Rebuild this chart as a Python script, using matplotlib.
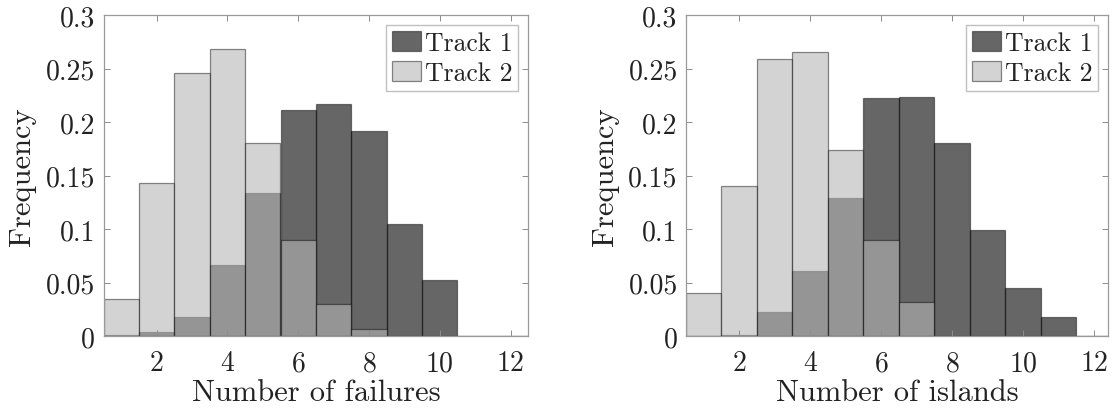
import matplotlib
matplotlib.use("Agg")
import matplotlib.pyplot as plt
import numpy as np
from matplotlib.patches import Patch

plt.rcParams["font.family"] = ["cmr10", "DejaVu Serif"]
plt.rcParams["axes.unicode_minus"] = False
plt.rcParams["axes.formatter.use_mathtext"] = True

# Bin centres and relative frequencies
bins = np.arange(1, 13)

failures_track1 = [0.001, 0.004, 0.018, 0.066, 0.134, 0.211, 0.217, 0.192, 0.105, 0.052, 0.0, 0.0]
failures_track2 = [0.035, 0.143, 0.246, 0.268, 0.180, 0.090, 0.030, 0.007, 0.0, 0.0, 0.0, 0.0]

islands_track1 = [0.0, 0.001, 0.022, 0.061, 0.129, 0.222, 0.223, 0.180, 0.099, 0.045, 0.018, 0.0]
islands_track2 = [0.040, 0.140, 0.259, 0.265, 0.174, 0.090, 0.032, 0.0, 0.0, 0.0, 0.0, 0.0]

series_labels = ["Track 1", "Track 2"]
x_labels = ["Number of failures", "Number of islands"]
y_label = "Frequency"
x_ticks = [2, 4, 6, 8, 10, 12]
y_ticks = [0, 0.05, 0.1, 0.15, 0.2, 0.25, 0.3]
y_tick_labels = ["0", "0.05", "0.1", "0.15", "0.2", "0.25", "0.3"]

face1 = (0.0, 0.0, 0.0, 0.6)
face2 = (0.713, 0.713, 0.713, 0.6)
edge = (0.0, 0.0, 0.0, 0.45)

W, H = 1114, 414
fig = plt.figure(figsize=(W / 100, H / 100), dpi=100)

panels = [
    (failures_track1, failures_track2, x_labels[0], [103.5, 528.3], 12.5),
    (islands_track1, islands_track2, x_labels[1], [686.0, 1108.3], 12.4),
]
top_px, bottom_px = 16.0, 337.0

for t1, t2, xl, (lpx, rpx), xmax in panels:
    ax = fig.add_axes([lpx / W, 1 - bottom_px / H, (rpx - lpx) / W, (bottom_px - top_px) / H])
    ax.bar(bins, t1, width=1.0, facecolor=face1, edgecolor=edge, linewidth=0.9, label=series_labels[0])
    ax.bar(bins, t2, width=1.0, facecolor=face2, edgecolor=edge, linewidth=0.9, label=series_labels[1])
    ax.set_xlim(0.5, xmax)
    ax.set_ylim(0, 0.3)
    ax.set_xticks(x_ticks)
    ax.set_yticks(y_ticks)
    ax.set_yticklabels(y_tick_labels)
    ax.tick_params(axis="both", direction="in", top=True, right=True, length=4,
                   width=0.7, color="#8c8c8c", labelsize=20, labelcolor="#222222")
    ax.tick_params(axis="x", pad=10)
    ax.tick_params(axis="y", pad=6)
    for s in ax.spines.values():
        s.set_color("#9a9a9a")
        s.set_linewidth(0.9)
    ax.set_xlabel(xl, fontsize=22, color="#222222", labelpad=2)
    ax.set_ylabel(y_label, fontsize=22, color="#222222", labelpad=7)
    handles = [Patch(facecolor=face1, edgecolor=edge, linewidth=0.9),
               Patch(facecolor=face2, edgecolor=edge, linewidth=0.9)]
    leg = ax.legend(handles, series_labels, loc="upper right", fontsize=18.5,
                    frameon=True, fancybox=False, framealpha=1,
                    handlelength=1.12, handleheight=0.85, handletextpad=0.15,
                    borderpad=0.22, labelspacing=0.22, borderaxespad=0.4)
    leg.get_frame().set_edgecolor("#c0c0c0")
    leg.get_frame().set_linewidth(1.0)
    for txt in leg.get_texts():
        txt.set_color("#222222")

fig.savefig("out.png", dpi=100)
